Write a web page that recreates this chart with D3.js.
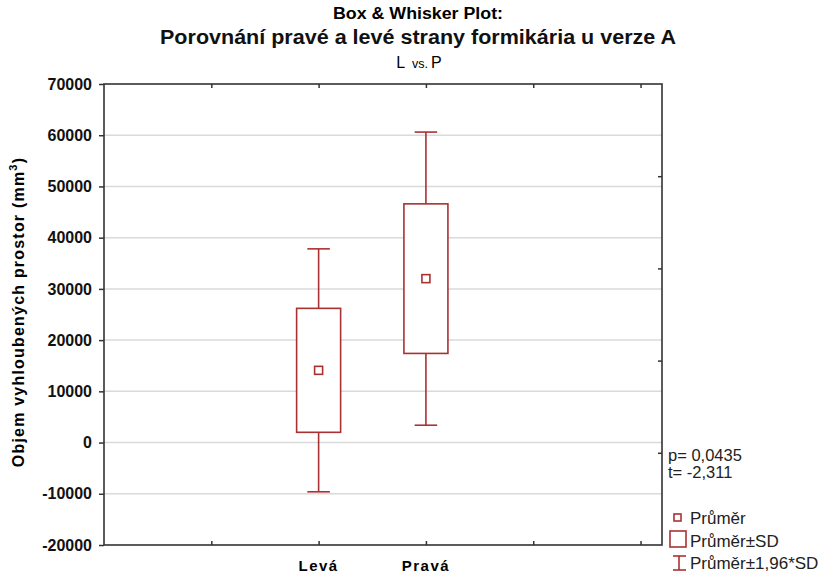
<!DOCTYPE html>
<html>
<head>
<meta charset="utf-8">
<script src="https://cdn.jsdelivr.net/npm/d3@7"></script>
<style>
  body { margin: 0; background: #fff; }
  svg { font-family: "Liberation Sans", Arial, sans-serif; }
</style>
</head>
<body>
<div id="graph"></div>
<script>
const width = 824
const height = 576

// data
const categories = ['Levá', 'Pravá']
const means = [14100, 32000]
const sds = [12100, 14600]
const yTicks = [70000, 60000, 50000, 40000, 30000, 20000, 10000, 0, -10000, -20000]
const xTicks = [1, 2, 3, 4, 5]
const rightTicks = [-2000, 16000, 34000, 52000]
const stats = ['p= 0,0435', 't= -2,311']
const legendLabels = ['Průměr', 'Průměr±SD', 'Průměr±1,96*SD']

const red = '#a83232'
const plot = {left: 104, right: 662, top: 84, bottom: 545}

const svg = d3.select('#graph')
  .append('svg')
  .attr('width', width)
  .attr('height', height)

const x = d3.scaleLinear().domain([0, 5.2]).range([plot.left, plot.right])
const y = d3.scaleLinear().domain([-20000, 70000]).range([plot.bottom, plot.top])

// grid
svg.append('g')
  .selectAll('line')
  .data(yTicks.filter(d => d > -20000 && d < 70000))
  .join('line')
  .attr('x1', plot.left).attr('x2', plot.right)
  .attr('y1', d => y(d)).attr('y2', d => y(d))
  .attr('stroke', '#dadada')
  .attr('stroke-width', 1.5)

// axes
const left = svg.append('g')
  .attr('transform', `translate(${plot.left},0)`)
  .call(d3.axisLeft(y).tickValues(yTicks).tickSize(5).tickPadding(7).tickFormat(d => String(d)))
left.selectAll('text')
  .attr('font-size', 16).attr('font-weight', 'bold').attr('fill', '#111')
  .attr('font-family', '"Liberation Sans", Arial, sans-serif')

svg.append('g')
  .attr('transform', `translate(0,${plot.bottom})`)
  .call(d3.axisBottom(x).tickValues(xTicks).tickSize(-4).tickFormat(''))
svg.append('g')
  .attr('transform', `translate(0,${plot.top})`)
  .call(d3.axisTop(x).tickValues(xTicks).tickSize(-4).tickFormat(''))
svg.append('g')
  .attr('transform', `translate(${plot.right},0)`)
  .call(d3.axisRight(y).tickValues(rightTicks).tickSize(-4).tickFormat(''))

svg.selectAll('.domain').remove()
svg.selectAll('.tick line').attr('stroke', '#333').attr('stroke-width', 1.5)

svg.append('rect')
  .attr('x', plot.left).attr('y', plot.top)
  .attr('width', plot.right - plot.left).attr('height', plot.bottom - plot.top)
  .attr('fill', 'none').attr('stroke', '#333').attr('stroke-width', 1.6)

// category labels
svg.append('g')
  .selectAll('text')
  .data(categories)
  .join('text')
  .attr('x', (d, i) => x(i + 2))
  .attr('y', 571)
  .attr('text-anchor', 'middle')
  .attr('font-size', 15).attr('font-weight', 'bold')
  .attr('letter-spacing', 1.5)
  .text(d => d)

// boxes
const boxW = 0.41
const capW = 0.21
const boxes = svg.append('g')
  .selectAll('g')
  .data(categories.map((c, i) => ({c, i, m: means[i], s: sds[i]})))
  .join('g')
  .attr('fill', 'none').attr('stroke', red).attr('stroke-width', 1.6)

boxes.append('line')
  .attr('x1', d => x(d.i + 2)).attr('x2', d => x(d.i + 2))
  .attr('y1', d => y(d.m + 1.96 * d.s)).attr('y2', d => y(d.m - 1.96 * d.s))
boxes.append('line')
  .attr('x1', d => x(d.i + 2 - capW / 2)).attr('x2', d => x(d.i + 2 + capW / 2))
  .attr('y1', d => y(d.m + 1.96 * d.s)).attr('y2', d => y(d.m + 1.96 * d.s))
boxes.append('line')
  .attr('x1', d => x(d.i + 2 - capW / 2)).attr('x2', d => x(d.i + 2 + capW / 2))
  .attr('y1', d => y(d.m - 1.96 * d.s)).attr('y2', d => y(d.m - 1.96 * d.s))
boxes.append('rect')
  .attr('x', d => x(d.i + 2 - boxW / 2))
  .attr('width', d => x(boxW) - x(0))
  .attr('y', d => y(d.m + d.s))
  .attr('height', d => y(d.m - d.s) - y(d.m + d.s))
  .attr('fill', '#fff')
boxes.append('rect')
  .attr('x', d => x(d.i + 2) - 4).attr('y', d => y(d.m) - 4)
  .attr('width', 8).attr('height', 8)
  .attr('fill', '#fff')

// titles
svg.append('text')
  .attr('x', 418).attr('y', 19)
  .attr('text-anchor', 'middle')
  .attr('font-size', 16).attr('font-weight', 'bold')
  .attr('textLength', 170).attr('lengthAdjust', 'spacingAndGlyphs')
  .text('Box & Whisker Plot:')
svg.append('text')
  .attr('x', 418).attr('y', 44)
  .attr('text-anchor', 'middle')
  .attr('font-size', 20).attr('font-weight', 'bold').attr('fill', '#111')
  .attr('textLength', 516).attr('lengthAdjust', 'spacingAndGlyphs')
  .text('Porovnání pravé a levé strany formikária u verze A')
const sub = svg.append('text')
  .attr('x', 419).attr('y', 68)
  .attr('text-anchor', 'middle')
  .attr('font-size', 16)
sub.append('tspan').text('L ')
sub.append('tspan').attr('font-size', 12.5).attr('dx', 3).text('vs.')
sub.append('tspan').attr('dx', 3).text('P')

// y label
const yl = svg.append('text')
  .attr('transform', 'translate(24,312) rotate(-90)')
  .attr('text-anchor', 'middle')
  .attr('font-size', 16).attr('font-weight', 'bold')
  .attr('letter-spacing', 1.2)
yl.append('tspan').text('Objem vyhloubených prostor (mm')
yl.append('tspan').attr('font-size', 11).attr('dy', -7).text('3')
yl.append('tspan').attr('dy', 7).text(')')

// stats
svg.append('g')
  .selectAll('text')
  .data(stats)
  .join('text')
  .attr('x', 668)
  .attr('y', (d, i) => 461 + i * 17)
  .attr('font-size', 16.5)
  .attr('fill', '#222')
  .text(d => d)

// legend
const lg = svg.append('g').attr('fill', 'none').attr('stroke', red).attr('stroke-width', 1.6)
lg.append('rect').attr('x', 674).attr('y', 514).attr('width', 7).attr('height', 7)
lg.append('rect').attr('x', 670).attr('y', 531).attr('width', 16).attr('height', 16)
lg.append('line').attr('x1', 679).attr('x2', 679).attr('y1', 556).attr('y2', 570)
lg.append('line').attr('x1', 673).attr('x2', 686).attr('y1', 556).attr('y2', 556)
lg.append('line').attr('x1', 673).attr('x2', 686).attr('y1', 570).attr('y2', 570)

svg.append('g')
  .selectAll('text')
  .data(legendLabels)
  .join('text')
  .attr('x', 690)
  .attr('y', (d, i) => 524 + i * 22.5)
  .attr('font-size', 17)
  .attr('fill', '#222')
  .text(d => d)
</script>
</body>
</html>
